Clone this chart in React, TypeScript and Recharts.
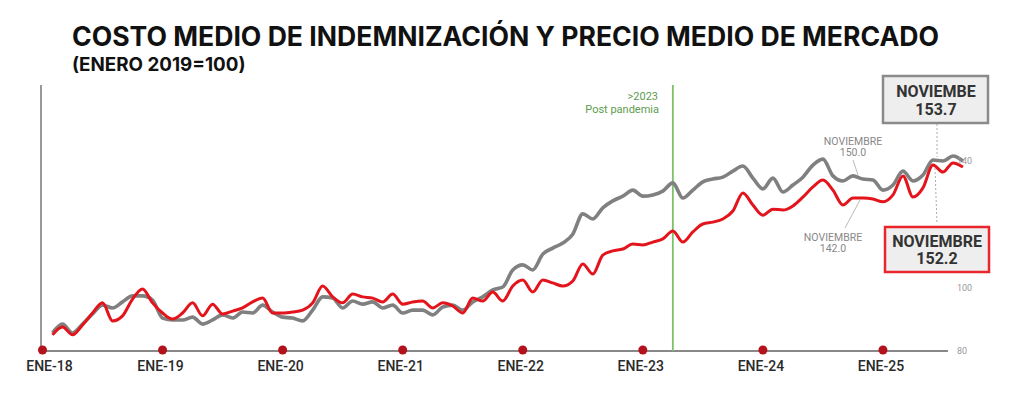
import React from 'react';
import { LineChart, Line, XAxis, YAxis, ReferenceLine } from 'recharts';

// índice de meses: 0 = ENE-18
const tickMonths = [0, 12, 24, 36, 48, 60, 72, 84];
const tickLabels = ['ENE-18', 'ENE-19', 'ENE-20', 'ENE-21', 'ENE-22', 'ENE-23', 'ENE-24', 'ENE-25'];
const yTicks = [80, 100, 140];

// serie gris: precio medio de mercado (desde FEB-18)
const precioMercado = [
  85.7, 88.5, 85.7, 88.5, 91.7, 94.5, 93.6, 95.5, 97.4, 97.4,
  96.1, 90.4, 89.8, 89.8, 90.7, 88.5, 89.8, 91.4, 90.4, 92.3,
  92.0, 94.5, 92.3, 90.7, 90.4, 89.5, 92.9, 97.1, 96.7, 93.6,
  95.8, 94.8, 95.5, 93.6, 94.5, 92.0, 92.9, 92.9, 91.4, 93.9,
  94.5, 92.9, 95.5, 97.1, 99.3, 100.2, 105.6, 107.2, 105.6, 110.6,
  112.5, 114.1, 116.9, 123.3, 121.7, 125.2, 127.4, 128.9, 130.8, 128.9,
  129.3, 130.5, 133.1, 128.3, 130.8, 133.4, 134.3, 134.9, 136.8, 138.4,
  134.6, 131.2, 134.6, 130.2, 132.4, 134.9, 138.7, 140.6, 135.3, 133.7,
  135.3, 134.3, 134.0, 130.8, 132.4, 136.8, 133.7, 135.6, 140.3, 140.0,
  141.6, 140.0,
];

// serie roja: costo medio de indemnización (desde FEB-18)
const costoIndemnizacion = [
  85.1, 87.6, 85.1, 88.2, 92.0, 95.2, 89.5, 91.1, 96.4, 99.6,
  95.2, 92.0, 90.1, 92.0, 95.2, 91.1, 94.8, 91.7, 92.6, 93.6,
  95.5, 96.7, 92.0, 92.0, 92.3, 92.9, 95.2, 100.5, 97.1, 95.2,
  98.0, 97.1, 96.7, 95.5, 98.0, 94.8, 95.5, 95.8, 93.6, 95.2,
  94.2, 92.0, 96.7, 95.8, 98.6, 95.8, 100.5, 102.4, 98.6, 102.4,
  101.5, 100.5, 102.1, 107.5, 104.3, 110.3, 111.6, 112.2, 113.8, 113.5,
  114.4, 115.4, 117.9, 114.4, 117.6, 120.1, 120.7, 121.7, 124.2, 129.9,
  126.1, 122.9, 124.8, 124.5, 125.8, 128.6, 131.8, 134.0, 130.8, 126.1,
  128.3, 128.3, 128.0, 127.1, 129.3, 135.3, 128.6, 131.5, 138.7, 136.5,
  139.4, 138.1,
];

const chartData = precioMercado.map((v, i) => ({
  mes: i + 1,
  precio: v,
  costo: costoIndemnizacion[i],
}));

const XTick = (props: any) => {
  const { x, y, payload } = props;
  const idx = tickMonths.indexOf(payload.value);
  const dx = idx === 0 ? 7 : -2;
  return (
    <g>
      <circle cx={x} cy={y - 1} r={4.5} fill="#b3111b" />
      <text
        x={x + dx}
        y={y + 20}
        textAnchor="middle"
        fontFamily="Roboto"
        fontWeight={500}
        fontSize={14}
        fill="#2a2a2a"
      >
        {tickLabels[idx]}
      </text>
    </g>
  );
};

const YTick = (props: any) => {
  const { x, y, payload } = props;
  return (
    <text x={x - 6} y={y + 3} textAnchor="start" fontFamily="Roboto" fontSize={9} fill="#999">
      {payload.value}
    </text>
  );
};

const App: React.FC = () => {
  return (
    <div style={{ position: 'absolute', left: 0, top: 0, width: 1024, height: 394, background: '#fff' }}>
      <LineChart
        width={1024}
        height={394}
        data={chartData}
        margin={{ top: 85, right: 0, bottom: 0, left: 41 }}
      >
        <XAxis
          type="number"
          dataKey="mes"
          domain={[-0.15, 92]}
          ticks={tickMonths}
          interval={0}
          height={43}
          axisLine={false}
          tickLine={false}
          tickSize={0}
          tickMargin={0}
          tick={<XTick />}
        />
        <YAxis
          orientation="right"
          domain={[80, 164]}
          ticks={yTicks}
          width={61}
          axisLine={false}
          tickLine={false}
          tickSize={0}
          tickMargin={0}
          tick={<YTick />}
        />
        <ReferenceLine
          segment={[{ x: -0.15, y: 80 }, { x: -0.15, y: 164 }]}
          stroke="#777"
          strokeWidth={1.5}
        />
        <ReferenceLine
          segment={[{ x: -0.15, y: 80 }, { x: 90.5, y: 80 }]}
          stroke="#888"
          strokeWidth={1.8}
        />
        <ReferenceLine x={63} stroke="#7cc16a" strokeWidth={1.8} />
        <Line
          type="monotone"
          dataKey="precio"
          stroke="#808080"
          strokeWidth={3.6}
          dot={false}
          isAnimationActive={false}
        />
        <Line
          type="monotone"
          dataKey="costo"
          stroke="#e3141b"
          strokeWidth={3}
          dot={false}
          isAnimationActive={false}
        />
      </LineChart>

      <svg
        width={1024}
        height={394}
        style={{ position: 'absolute', left: 0, top: 0, pointerEvents: 'none' }}
      >
        <text x={72} y={46} fontFamily="Inter" fontWeight={700} fontSize={26.6} fill="#111">
          COSTO MEDIO DE INDEMNIZACIÓN Y PRECIO MEDIO DE MERCADO
        </text>
        <text x={72} y={71} fontFamily="Inter" fontWeight={700} fontSize={18.8} fill="#111">
          (ENERO 2019=100)
        </text>

        <text x={658} y={100} textAnchor="end" fontFamily="Roboto" fontSize={11} fill="#5e9c4e">
          {'>2023'}
        </text>
        <text x={659} y={113} textAnchor="end" fontFamily="Roboto" fontSize={11} fill="#5e9c4e">
          Post pandemia
        </text>

        <text x={853} y={145} textAnchor="middle" fontFamily="Roboto" fontSize={10.5} fill="#888">
          NOVIEMBRE
        </text>
        <text x={853} y={156} textAnchor="middle" fontFamily="Roboto" fontSize={10.5} fill="#888">
          150.0
        </text>
        <line x1={853} y1={160} x2={858} y2={175} stroke="#aaa" strokeWidth={0.8} />

        <text x={833} y={241} textAnchor="middle" fontFamily="Roboto" fontSize={10.5} fill="#888">
          NOVIEMBRE
        </text>
        <text x={833} y={252} textAnchor="middle" fontFamily="Roboto" fontSize={10.5} fill="#888">
          142.0
        </text>
        <line x1={845} y1={228} x2={860} y2={200} stroke="#aaa" strokeWidth={0.8} />

        <line x1={937} y1={124} x2={937} y2={157} stroke="#aaa" strokeWidth={1} strokeDasharray="2 2" />
        <line x1={935} y1={168} x2={937} y2={224} stroke="#aaa" strokeWidth={1} strokeDasharray="2 2" />

        <rect x={883} y={76} width={105} height={47} fill="#eeeeee" stroke="#8a8a8a" strokeWidth={2.5} />
        <text x={936} y={97} textAnchor="middle" fontFamily="Roboto" fontWeight={700} fontSize={16} fill="#333">
          NOVIEMBE
        </text>
        <text x={936} y={115} textAnchor="middle" fontFamily="Roboto" fontWeight={700} fontSize={16} fill="#333">
          153.7
        </text>

        <rect x={885} y={227} width={104} height={45} fill="#eeeeee" stroke="#e8262c" strokeWidth={2.5} />
        <text x={937} y={247} textAnchor="middle" fontFamily="Roboto" fontWeight={700} fontSize={16} fill="#333">
          NOVIEMBRE
        </text>
        <text x={937} y={264} textAnchor="middle" fontFamily="Roboto" fontWeight={700} fontSize={16} fill="#333">
          152.2
        </text>
      </svg>
    </div>
  );
};

export default App;
